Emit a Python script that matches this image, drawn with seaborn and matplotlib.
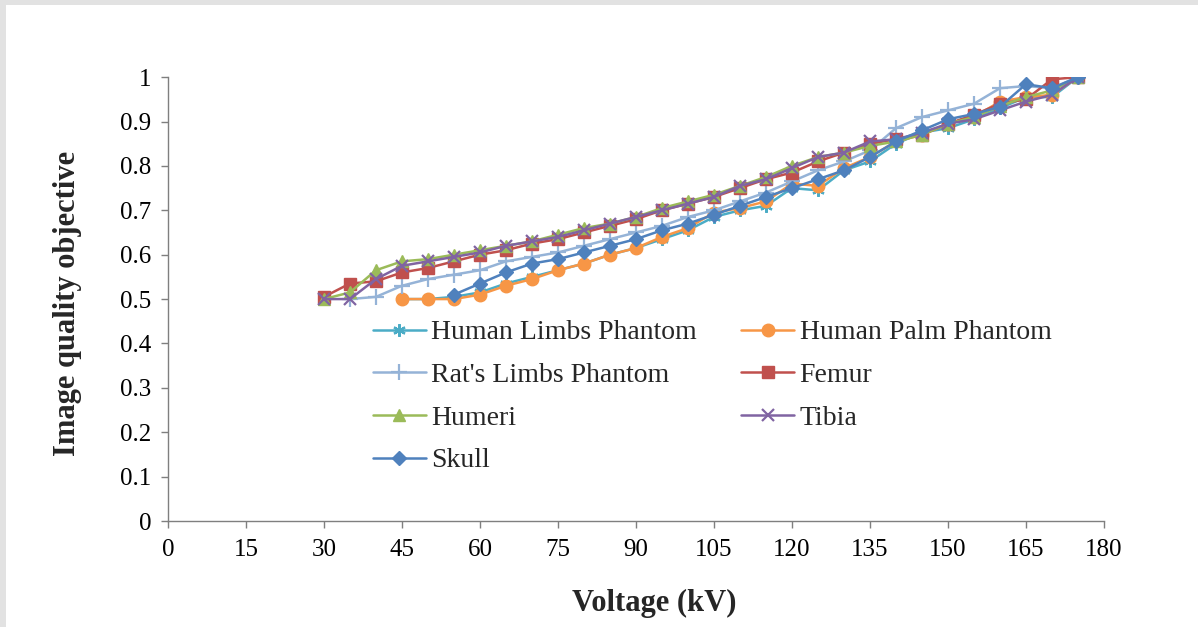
import numpy as np
import pandas as pd
import matplotlib
matplotlib.use("Agg")
import matplotlib.pyplot as plt
from matplotlib.patches import Rectangle
import seaborn as sns

kv_full = list(range(30, 180, 5))          # 30..175
kv_from35 = list(range(35, 180, 5))
kv_from45 = list(range(45, 180, 5))
kv_from55 = list(range(55, 180, 5))

human_limbs = [0.50, 0.50, 0.505, 0.515, 0.535, 0.55, 0.565, 0.58, 0.60, 0.615, 0.635, 0.655,
               0.685, 0.70, 0.71, 0.75, 0.745, 0.79, 0.81, 0.85, 0.875, 0.885, 0.905, 0.93,
               0.955, 0.955, 1.0]
human_palm = [0.50, 0.50, 0.50, 0.51, 0.53, 0.545, 0.565, 0.58, 0.60, 0.615, 0.64, 0.66,
              0.695, 0.705, 0.72, 0.76, 0.755, 0.795, 0.82, 0.855, 0.87, 0.895, 0.91, 0.945,
              0.955, 0.96, 1.0]
rats_limbs = [0.50, 0.505, 0.53, 0.545, 0.555, 0.565, 0.585, 0.595, 0.605, 0.62, 0.635, 0.65,
              0.665, 0.685, 0.70, 0.72, 0.74, 0.765, 0.79, 0.81, 0.835, 0.885, 0.91, 0.925,
              0.94, 0.975, 0.98, 0.975, 1.0]
femur = [0.505, 0.535, 0.54, 0.56, 0.57, 0.585, 0.60, 0.61, 0.625, 0.635, 0.65, 0.665, 0.68,
         0.70, 0.715, 0.73, 0.75, 0.77, 0.785, 0.81, 0.83, 0.85, 0.86, 0.87, 0.895, 0.915,
         0.94, 0.95, 0.995, 1.0]
humeri = [0.50, 0.515, 0.565, 0.585, 0.59, 0.60, 0.61, 0.62, 0.63, 0.645, 0.66, 0.67, 0.685,
          0.705, 0.72, 0.735, 0.755, 0.775, 0.80, 0.82, 0.83, 0.845, 0.855, 0.87, 0.895, 0.91,
          0.935, 0.955, 0.97, 1.0]
tibia = [0.50, 0.50, 0.545, 0.575, 0.585, 0.595, 0.605, 0.62, 0.63, 0.64, 0.655, 0.67, 0.685,
         0.70, 0.715, 0.73, 0.755, 0.77, 0.795, 0.82, 0.83, 0.855, 0.86, 0.875, 0.895, 0.905,
         0.925, 0.945, 0.96, 1.0]
skull = [0.51, 0.535, 0.56, 0.58, 0.59, 0.605, 0.62, 0.635, 0.655, 0.67, 0.69, 0.71, 0.73,
         0.75, 0.77, 0.79, 0.82, 0.855, 0.88, 0.905, 0.917, 0.933, 0.984, 0.975, 1.0]

x_ticks = list(range(0, 181, 15))
y_ticks = [0, 0.1, 0.2, 0.3, 0.4, 0.5, 0.6, 0.7, 0.8, 0.9, 1]
y_tick_labels = ["0", "0.1", "0.2", "0.3", "0.4", "0.5", "0.6", "0.7", "0.8", "0.9", "1"]

series = [
    ("Human Limbs Phantom", kv_from45, human_limbs, "#4BACC6", (6, 2, 0), 9),
    ("Human Palm Phantom", kv_from45, human_palm, "#F79646", "o", 9),
    ("Rat's Limbs Phantom", kv_from35, rats_limbs, "#95B3D7", "+", 11),
    ("Femur", kv_full, femur, "#C0504D", "s", 8.5),
    ("Humeri", kv_full, humeri, "#9BBB59", "^", 9),
    ("Tibia", kv_full, tibia, "#8064A2", "x", 9),
    ("Skull", kv_from55, skull, "#4F81BD", "D", 7.5),
]

sns.set_theme(style="white")
plt.rcParams["font.family"] = ["Liberation Serif", "DejaVu Serif"]

fig = plt.figure(figsize=(11.98, 6.27), dpi=100)
ax = fig.add_axes([0.1402, 0.169, 0.7813, 0.708])

for name, xs, ys, color, marker, ms in series:
    df = pd.DataFrame({"kV": xs, "v": ys})
    mew = 1.6 if marker in ("+", "x", (6, 2, 0)) else 1.0
    sns.lineplot(data=df, x="kV", y="v", ax=ax, color=color, marker=marker,
                 markersize=ms, markeredgecolor=color, markeredgewidth=mew,
                 linewidth=1.8, label=name)

ax.set_xlim(0, 180)
ax.set_ylim(0, 1)
ax.set_xticks(x_ticks)
ax.set_xticklabels([str(t) for t in x_ticks])
ax.set_yticks(y_ticks)
ax.set_yticklabels(y_tick_labels)
ax.tick_params(axis="both", which="major", direction="out", length=5, width=1,
               color="#7f7f7f", labelsize=18, labelcolor="black", bottom=True, left=True)
ax.tick_params(axis="x", pad=8)
ax.tick_params(axis="y", pad=7)
for side in ("top", "right"):
    ax.spines[side].set_visible(False)
for side in ("left", "bottom"):
    ax.spines[side].set_color("#7f7f7f")
    ax.spines[side].set_linewidth(1)

ax.set_xlabel("Voltage (kV)", fontsize=22, fontweight="bold")
ax.set_ylabel("Image quality objective", fontsize=22, fontweight="bold")
ax.xaxis.set_label_coords(0.52, -0.152)
ax.yaxis.set_label_coords(-0.092, 0.49)

# row-major legend order as in the reference (two columns)
handles, labels = ax.get_legend_handles_labels()
order = [0, 2, 4, 6, 1, 3, 5]
leg = ax.legend([handles[i] for i in order], [labels[i] for i in order],
                loc="upper left", bbox_to_anchor=(0.207, 0.478), ncol=2, frameon=False,
                fontsize=20, handlelength=1.9, handletextpad=0.2, labelspacing=0.62,
                columnspacing=1.6, borderaxespad=0)

# light gray frame at top and left edges of the picture
fig.patches.append(Rectangle((0, 1 - 5 / 627), 1, 5 / 627, transform=fig.transFigure,
                             facecolor="#e2e2e2", edgecolor="none", zorder=-1))
fig.patches.append(Rectangle((0, 0), 6 / 1198, 1, transform=fig.transFigure,
                             facecolor="#e2e2e2", edgecolor="none", zorder=-1))

fig.savefig("out.png", dpi=100)
